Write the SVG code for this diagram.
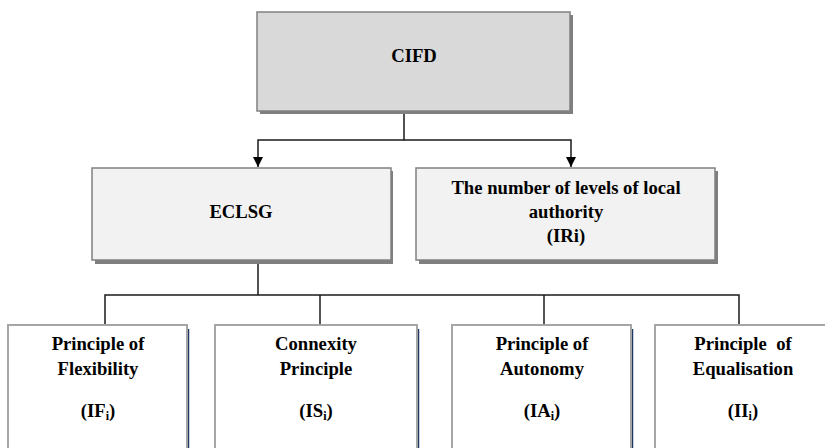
<svg xmlns="http://www.w3.org/2000/svg" width="825" height="448" viewBox="0 0 825 448">
<defs>
<style>
text{font-family:"Liberation Serif","Times New Roman","DejaVu Serif",serif;font-weight:bold;font-size:18.67px;fill:#000;text-anchor:middle}
.sub{font-size:12px}
.shadow{fill:#7f7f7f}
.top{fill:#d9d9d9;stroke:#808080;stroke-width:1.5}
.mid{fill:#f2f2f2;stroke:#808080;stroke-width:1.5}
.leaf{fill:#fff;stroke:#a6a6a6;stroke-width:2}
.navy{stroke:#1f3864;stroke-width:1.5}
.conn{fill:none;stroke:#1a1a1a;stroke-width:1.5}
</style>
<marker id="arr" viewBox="0 0 10 10" refX="10" refY="5" markerWidth="10" markerHeight="10" markerUnits="userSpaceOnUse" orient="auto">
<path d="M0,0 L10,5 L0,10 Z" fill="#000"/>
</marker>
</defs>

<g id="connectors">
<path class="conn" d="M404,111 V140 H258 V167" marker-end="url(#arr)"/>
<path class="conn" d="M404,140 H571 V167" marker-end="url(#arr)"/>
<path class="conn" d="M258,264 V295"/>
<path class="conn" d="M105,324 V295 H739 V324"/>
<path class="conn" d="M320,295 V324"/>
<path class="conn" d="M544,295 V324"/>
</g>

<g id="cifd">
<rect class="shadow" x="260" y="15" width="313" height="99"/>
<rect class="top" x="257" y="12" width="313" height="99"/>
<text x="414" y="62">CIFD</text>
</g>

<g id="eclsg">
<rect class="shadow" x="95" y="171" width="298" height="93"/>
<rect class="mid" x="92" y="168" width="299" height="92"/>
<text x="241" y="218">ECLSG</text>
</g>

<g id="levels">
<rect class="shadow" x="419" y="171" width="299" height="93"/>
<rect class="mid" x="416" y="168" width="299" height="92"/>
<text x="566" y="194">The number of levels of local</text>
<text x="566" y="218">authority</text>
<text x="566" y="242">(IRi)</text>
</g>

<g id="flexibility">
<line class="navy" x1="188.5" y1="329" x2="188.5" y2="448"/>
<rect class="leaf" x="8" y="325" width="179" height="130"/>
<text x="98" y="350">Principle of</text>
<text x="98" y="375">Flexibility</text>
<text x="98" y="417">(IF<tspan class="sub" dy="3">i</tspan><tspan dy="-3">)</tspan></text>
</g>

<g id="connexity">
<line class="navy" x1="418.5" y1="329" x2="418.5" y2="448"/>
<rect class="leaf" x="215" y="325" width="202" height="130"/>
<text x="316" y="350">Connexity</text>
<text x="316" y="375">Principle</text>
<text x="316" y="417">(IS<tspan class="sub" dy="3">i</tspan><tspan dy="-3">)</tspan></text>
</g>

<g id="autonomy">
<line class="navy" x1="632.5" y1="329" x2="632.5" y2="448"/>
<rect class="leaf" x="452" y="325" width="179" height="130"/>
<text x="542" y="350">Principle of</text>
<text x="542" y="375">Autonomy</text>
<text x="542" y="417">(IA<tspan class="sub" dy="3">i</tspan><tspan dy="-3">)</tspan></text>
</g>

<g id="equalisation">
<rect class="leaf" x="655" y="325" width="185" height="130"/>
<text x="743" y="350" xml:space="preserve">Principle  of</text>
<text x="743" y="375">Equalisation</text>
<text x="743" y="417">(II<tspan class="sub" dy="3">i</tspan><tspan dy="-3">)</tspan></text>
</g>
</svg>
